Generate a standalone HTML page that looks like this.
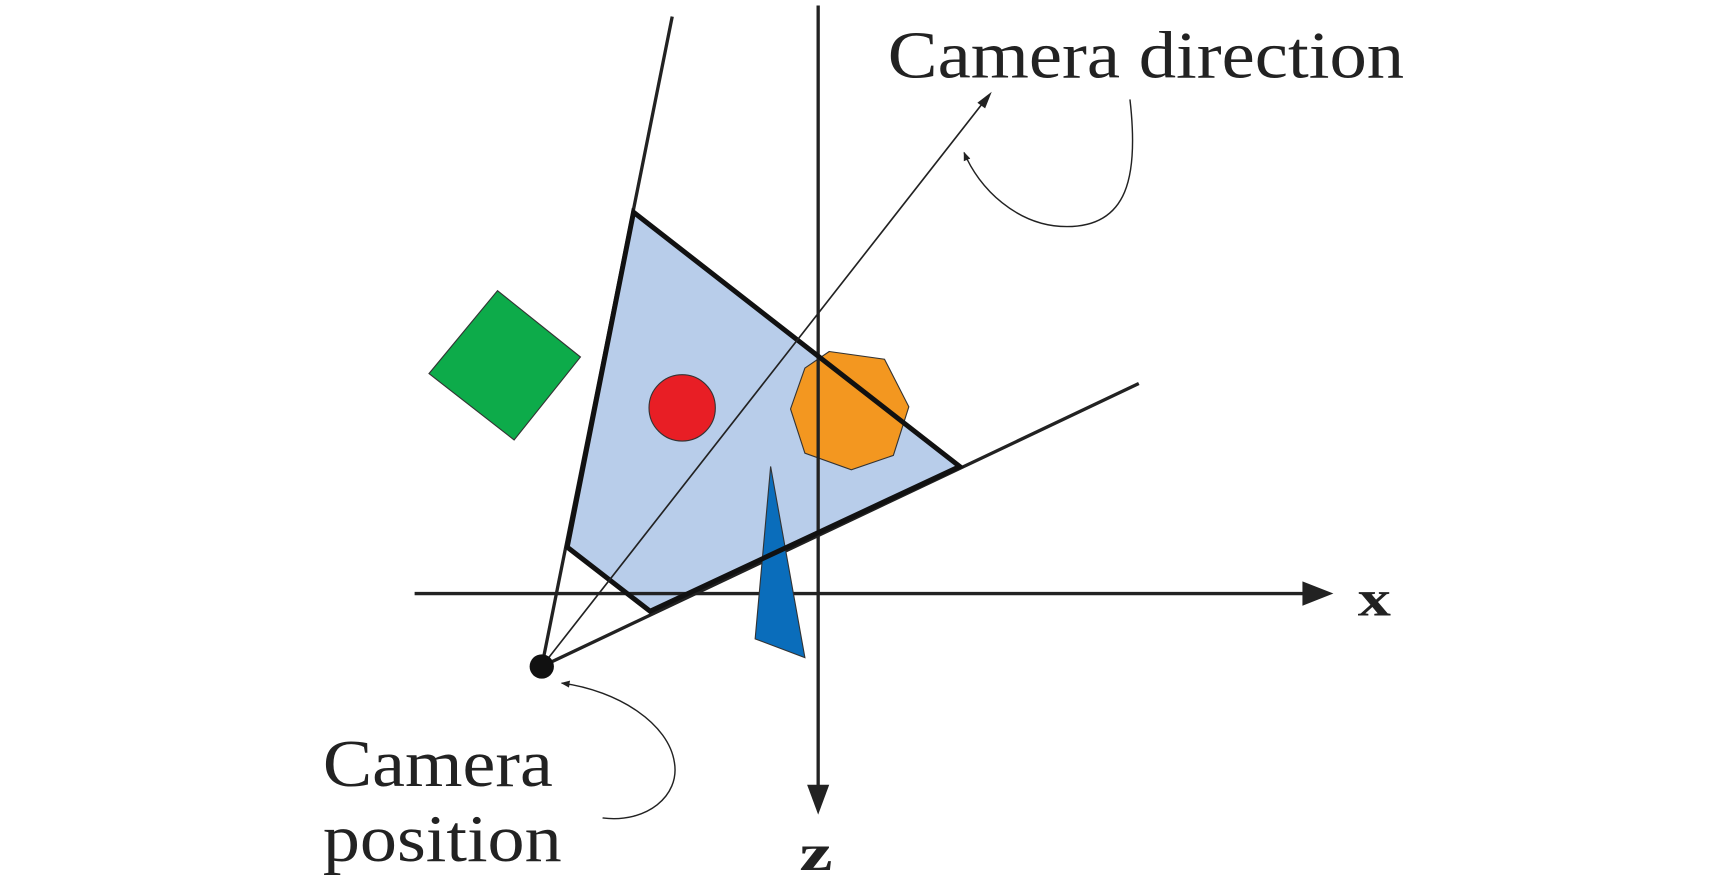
<!DOCTYPE html>
<html><head><meta charset="utf-8"><style>html,body{margin:0;padding:0;background:#fff;width:1727px;height:892px;overflow:hidden}svg{display:block}</style></head>
<body>
<svg width="1727" height="892" viewBox="0 0 1562 807" preserveAspectRatio="none" xmlns="http://www.w3.org/2000/svg">
<defs>
<marker id="ah" viewBox="0 0 10 10" refX="9" refY="5" markerWidth="8" markerHeight="8" orient="auto-start-reverse" markerUnits="userSpaceOnUse"><path d="M0,1 L10,5 L0,9 z" fill="#222"/></marker>
</defs>
<polygon points="573,192 868,422 588,553 513,495" fill="#b8cdea"/>
<polygon points="450,263 525,323 465,398 388,338" fill="#0dab4a" stroke="#333" stroke-width="1"/>
<circle cx="617" cy="369" r="30" fill="#e81e25" stroke="#333" stroke-width="1"/>
<polygon points="750,318 800,325 822,368 808,412 770,425 728,410 715,370 728,333" fill="#f39720" stroke="#333" stroke-width="1"/>
<line x1="608" y1="15" x2="490" y2="603" stroke="#222" stroke-width="3"/>
<line x1="490" y1="603" x2="1030" y2="347" stroke="#222" stroke-width="3"/>
<line x1="740" y1="5" x2="740" y2="712" stroke="#222" stroke-width="3"/>
<polygon points="730,710 750,710 740,737" fill="#222"/>
<line x1="375" y1="537" x2="1180" y2="537" stroke="#222" stroke-width="3"/>
<polygon points="1178,526 1178,548 1206,537" fill="#222"/>
<polygon points="697,422 728,595 683,578" fill="#0a6dbb" stroke="#333" stroke-width="1"/>
<polygon points="573,192 868,422 588,553 513,495" fill="none" stroke="#111" stroke-width="4.5"/>
<line x1="490" y1="603" x2="893" y2="88" stroke="#222" stroke-width="1.5"/>
<polygon points="897,83 884,93 891,98" fill="#222"/>
<circle cx="490" cy="603" r="11" fill="#111"/>
<path d="M1022,90 C1030,160 1020,205 965,205 C920,205 885,170 872,138" fill="none" stroke="#222" stroke-width="1.3" marker-end="url(#ah)"/>
<path d="M545,740 C585,745 615,720 610,690 C605,655 560,625 508,618" fill="none" stroke="#222" stroke-width="1.3" marker-end="url(#ah)"/>
<g font-family="'Liberation Serif',serif" fill="#222">
<text x="803" y="70" font-size="60" textLength="467" lengthAdjust="spacingAndGlyphs">Camera direction</text>
<text x="292" y="711" font-size="60" textLength="208" lengthAdjust="spacingAndGlyphs">Camera</text>
<text x="292" y="779" font-size="60" textLength="216" lengthAdjust="spacingAndGlyphs">position</text>
<text x="1228" y="557" font-size="46" font-weight="bold" textLength="30" lengthAdjust="spacingAndGlyphs">x</text>
<text x="723" y="787" font-size="46" font-weight="bold" textLength="30" lengthAdjust="spacingAndGlyphs">z</text>
</g>
</svg>
</body></html>
